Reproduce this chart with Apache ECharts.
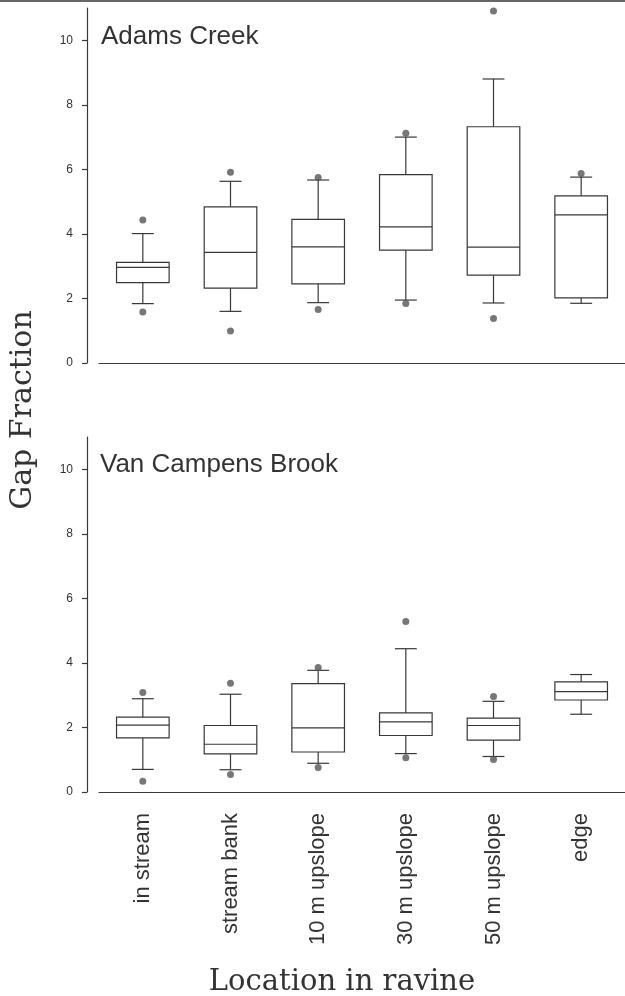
<!DOCTYPE html>
<html>
<head>
<meta charset="utf-8">
<script src="https://cdn.jsdelivr.net/npm/echarts@6/dist/echarts.min.js"></script>
<style>
  html, body { margin: 0; padding: 0; background: #fff; }
  #chart { width: 625px; height: 996px; }
</style>
</head>
<body>
<div id="chart"></div>
<script>
// locations along the ravine
const categories = ['in stream', 'stream bank', '10 m upslope', '30 m upslope', '50 m upslope', 'edge'];
const yTicks = [0, 2, 4, 6, 8, 10];

// each row: [lower whisker, Q1, median, Q3, upper whisker]
const adamsBoxes = [
  [1.84, 2.49, 2.96, 3.12, 4.01],
  [1.60, 2.32, 3.43, 4.84, 5.63],
  [1.87, 2.45, 3.60, 4.45, 5.67],
  [1.95, 3.50, 4.22, 5.84, 7.00],
  [1.86, 2.72, 3.59, 7.32, 8.80],
  [1.85, 2.02, 4.59, 5.18, 5.76]
];
const adamsOutliers = [
  [0, 4.43], [0, 1.58], [1, 5.91], [1, 0.99], [2, 5.75], [2, 1.66],
  [3, 7.12], [3, 1.84], [4, 10.91], [4, 1.38], [5, 5.87]
];

const vanBoxes = [
  [0.70, 1.68, 2.07, 2.32, 2.89],
  [0.69, 1.18, 1.48, 2.06, 3.03],
  [0.89, 1.24, 1.99, 3.36, 3.77],
  [1.19, 1.75, 2.17, 2.45, 4.44],
  [1.10, 1.61, 2.06, 2.29, 2.81],
  [2.41, 2.85, 3.11, 3.41, 3.64]
];
const vanOutliers = [
  [0, 3.08], [0, 0.33], [1, 3.37], [1, 0.54], [2, 3.86], [2, 0.76],
  [3, 5.28], [3, 1.06], [4, 2.96], [4, 1.01]
];

const ink = '#383838';
const sans = '"Liberation Sans", Arial, sans-serif';
const serif = '"DejaVu Serif", serif';

// box with short whisker caps (the built-in boxplot caps are full width)
function renderBox(params, api) {
  const i = api.value(0);
  const lo = api.coord([i, api.value(1)]);
  const q1 = api.coord([i, api.value(2)]);
  const md = api.coord([i, api.value(3)]);
  const q3 = api.coord([i, api.value(4)]);
  const hi = api.coord([i, api.value(5)]);
  const band = api.size([1, 0])[0];
  const cx = md[0];
  const hw = band * 0.3;
  const cw = band * 0.125;
  const st = { stroke: ink, lineWidth: 1.2, fill: null };
  return {
    type: 'group',
    children: [
      { type: 'line', shape: { x1: cx, y1: hi[1], x2: cx, y2: q3[1] }, style: st },
      { type: 'line', shape: { x1: cx, y1: q1[1], x2: cx, y2: lo[1] }, style: st },
      { type: 'line', shape: { x1: cx - cw, y1: hi[1], x2: cx + cw, y2: hi[1] }, style: st },
      { type: 'line', shape: { x1: cx - cw, y1: lo[1], x2: cx + cw, y2: lo[1] }, style: st },
      { type: 'rect', shape: { x: cx - hw, y: q3[1], width: hw * 2, height: q1[1] - q3[1] },
        style: { stroke: ink, lineWidth: 1.2, fill: '#fff' } },
      { type: 'line', shape: { x1: cx - hw, y1: md[1], x2: cx + hw, y2: md[1] }, style: st }
    ]
  };
}

function xAxisFor(idx, showLabels) {
  return {
    type: 'category',
    gridIndex: idx,
    data: categories,
    axisLine: { lineStyle: { color: ink, width: 1.2 } },
    axisTick: { alignWithLabel: true, length: 9, lineStyle: { color: ink, width: 1.2 } },
    axisLabel: {
      show: showLabels, rotate: 90, margin: 21, fontSize: 22,
      fontFamily: sans, color: '#333'
    },
    splitLine: { show: false }
  };
}

function yAxisFor(idx) {
  return {
    type: 'value',
    gridIndex: idx,
    min: 0, max: 11, interval: 2,
    offset: 12,
    axisLine: { show: true, lineStyle: { color: ink, width: 1.2 } },
    axisTick: { show: true, length: 5, customValues: yTicks, lineStyle: { color: ink, width: 1.2 } },
    axisLabel: { customValues: yTicks, margin: 14, fontSize: 12, fontFamily: sans, color: '#333' },
    splitLine: { show: false }
  };
}

const chart = echarts.init(document.getElementById('chart'), null, { renderer: 'canvas' });

chart.setOption({
  backgroundColor: '#fff',
  animation: false,
  grid: [
    { left: 99, top: 8, width: 532, height: 355 },
    { left: 99, top: 437, width: 532, height: 355 }
  ],
  xAxis: [xAxisFor(0, false), xAxisFor(1, true)],
  yAxis: [yAxisFor(0), yAxisFor(1)],
  series: [
    {
      type: 'custom', xAxisIndex: 0, yAxisIndex: 0,
      renderItem: renderBox,
      encode: { x: 0, y: [1, 2, 3, 4, 5] },
      data: adamsBoxes.map((b, i) => [i].concat(b))
    },
    {
      type: 'scatter', xAxisIndex: 0, yAxisIndex: 0,
      symbolSize: 7, itemStyle: { color: '#555' },
      data: adamsOutliers
    },
    {
      type: 'custom', xAxisIndex: 1, yAxisIndex: 1,
      renderItem: renderBox,
      encode: { x: 0, y: [1, 2, 3, 4, 5] },
      data: vanBoxes.map((b, i) => [i].concat(b))
    },
    {
      type: 'scatter', xAxisIndex: 1, yAxisIndex: 1,
      symbolSize: 7, itemStyle: { color: '#555' },
      data: vanOutliers
    }
  ],
  graphic: [
    { type: 'rect', shape: { x: 0, y: 0, width: 625, height: 2 }, style: { fill: '#666' } },
    { type: 'text', x: 101, y: 37,
      style: { text: 'Adams Creek', font: '26px ' + sans, fill: '#333', align: 'left', verticalAlign: 'middle' } },
    { type: 'text', x: 100, y: 465,
      style: { text: 'Van Campens Brook', font: '26px ' + sans, fill: '#333', align: 'left', verticalAlign: 'middle' } },
    { type: 'text', x: 23, y: 410, rotation: Math.PI / 2,
      style: { text: 'Gap Fraction', font: '30px ' + serif, fill: '#333', align: 'center', verticalAlign: 'middle' } },
    { type: 'text', x: 342, y: 982,
      style: { text: 'Location in ravine', font: '29px ' + serif, fill: '#333', align: 'center', verticalAlign: 'middle' } }
  ]
});
</script>
</body>
</html>
